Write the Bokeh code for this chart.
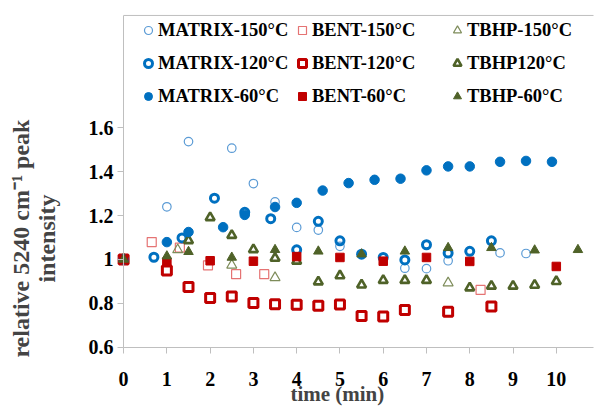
import math
from bokeh.plotting import figure
from bokeh.models import (LinearAxis, FixedTicker, Legend, LegendItem, Label)
from bokeh.embed import file_html
from bokeh.resources import INLINE

# ---------------- data ----------------
matrix_150_t = [0, 1, 1.5, 2.5, 3, 3.5, 4, 4.5, 5, 6.5, 7, 7.5, 8.7, 9.3]
matrix_150_v = [1.0, 1.24, 1.537, 1.507, 1.346, 1.262, 1.146, 1.134, 1.06, 0.96, 0.958, 0.994, 1.03, 1.027]

bent_150_t = [0, 0.65, 1.3, 1.95, 2.6, 3.25, 8.25]
bent_150_v = [1.0, 1.079, 1.054, 0.973, 0.933, 0.933, 0.861]

tbhp_150_t = [0, 1.25, 2.5, 3.5, 7.5]
tbhp_150_v = [1.0, 1.044, 0.974, 0.917, 0.893]

matrix_120_t = [0, 0.7, 1.35, 2.1, 2.8, 3.4, 4, 4.5, 5, 5.5, 6, 6.5, 7, 7.5, 8, 8.5]
matrix_120_v = [1.0, 1.01, 1.098, 1.279, 1.215, 1.186, 1.044, 1.174, 1.085, 1.024, 1.009, 0.998, 1.067, 1.029, 1.037, 1.085]

bent_120_t = [0, 1, 1.5, 2, 2.5, 3, 3.5, 4, 4.5, 5, 5.5, 6, 6.5, 7.5, 8.5]
bent_120_v = [1.0, 0.95, 0.874, 0.824, 0.831, 0.801, 0.796, 0.793, 0.789, 0.795, 0.742, 0.740, 0.770, 0.762, 0.785]

tbhp_120_t = [0, 1.5, 2, 2.5, 3, 3.5, 4, 4.5, 5, 5.5, 6, 6.5, 7, 8, 8.5, 9, 9.5, 10]
tbhp_120_v = [1.0, 1.086, 1.191, 1.11, 1.045, 1.006, 0.993, 0.898, 0.926, 0.884, 0.905, 0.905, 0.905, 0.871, 0.879, 0.879, 0.883, 0.9]

matrix_60_t = [0, 1, 1.5, 2.3, 2.8, 3.5, 4, 4.6, 5.2, 5.8, 6.4, 7, 7.5, 8, 8.7, 9.3, 9.9]
matrix_60_v = [1.0, 1.079, 1.125, 1.147, 1.203, 1.239, 1.258, 1.314, 1.348, 1.363, 1.368, 1.406, 1.424, 1.424, 1.445, 1.449, 1.445]

bent_60_t = [0, 1, 2, 3, 4, 5, 6, 7, 8, 10]
bent_60_v = [1.0, 0.988, 0.994, 0.992, 1.013, 1.009, 0.992, 1.009, 0.991, 0.968]

tbhp_60_t = [0, 1, 1.5, 2.5, 3.5, 4.5, 5.5, 6.5, 7.5, 8.5, 9.5, 10.5]
tbhp_60_v = [1.0, 1.015, 1.035, 1.009, 1.044, 1.037, 1.024, 1.037, 1.053, 1.053, 1.042, 1.044]

x_ticks = [0, 1, 2, 3, 4, 5, 6, 7, 8, 9, 10]
y_ticks = [0.6, 0.8, 1.0, 1.2, 1.4, 1.6]
y_tick_labels = ["0.6", "0.8", "1", "1.2", "1.4", "1.6"]

x_title = "time (min)"
y_title = "relative 5240 cm\u207b\u00b9 peak\nintensity"

# ---------------- layout constants ----------------
FONT = "Liberation Serif"
AX = "#BFBFBF"
X_MIN, X_MAX = 0, 10.86        # extent of the drawn x axis
Y_MIN, Y_MAX = 0.6, 2.112      # extent of the drawn y axis (top = box border)

# the frame fills the whole canvas; axes are drawn at fixed data locations
p = figure(width=595, height=419, x_range=(-2.845, 10.906), y_range=(0.2705, 2.1802),
           output_backend="svg", toolbar_location=None,
           x_axis_type=None, y_axis_type=None,
           min_border_left=0, min_border_right=0, min_border_top=0, min_border_bottom=0)
p.outline_line_color = None
p.background_fill_color = "white"
p.border_fill_color = "white"

def style_axis(ax):
    ax.axis_line_color = AX
    ax.major_tick_line_color = AX
    ax.minor_tick_line_color = None
    ax.major_tick_out = 6
    ax.major_tick_in = 0
    ax.major_label_text_font = FONT
    ax.major_label_text_font_style = "bold"
    ax.major_label_text_font_size = "20px"
    ax.major_label_text_color = "black"

xaxis = LinearAxis(ticker=FixedTicker(ticks=x_ticks), bounds=(X_MIN, X_MAX), fixed_location=Y_MIN)
style_axis(xaxis)
xaxis.major_label_standoff = 19
p.add_layout(xaxis, "below")

yaxis = LinearAxis(ticker=FixedTicker(ticks=y_ticks), bounds=(Y_MIN, Y_MAX), fixed_location=X_MIN,
                   major_label_overrides=dict(zip(y_ticks, y_tick_labels)))
style_axis(yaxis)
yaxis.major_label_standoff = 4
p.add_layout(yaxis, "left")

# top border line of the legend/plot box
p.segment(x0=[X_MIN], y0=[Y_MAX], x1=[X_MAX], y1=[Y_MAX], line_color=AX, line_width=1)

# ---------------- series ----------------
series = [
    ("MATRIX-150°C", matrix_150_t, matrix_150_v, "circle", "#5B9BD5", False, 8.5, 1.2),
    ("BENT-150°C", bent_150_t, bent_150_v, "square", "#E57373", False, 9, 1.2),
    ("TBHP-150°C", tbhp_150_t, tbhp_150_v, "triangle", "#7E8C5A", False, 10, 1.2),
    ("MATRIX-120°C", matrix_120_t, matrix_120_v, "circle", "#0070C0", False, 8, 3),
    ("BENT-120°C", bent_120_t, bent_120_v, "square", "#C00000", False, 9, 3),
    ("TBHP120°C", tbhp_120_t, tbhp_120_v, "triangle", "#4F6228", False, 9, 2.6),
    ("MATRIX-60°C", matrix_60_t, matrix_60_v, "circle", "#0070C0", True, 9.5, 1),
    ("BENT-60°C", bent_60_t, bent_60_v, "square", "#C00000", True, 8.5, 1),
    ("TBHP-60°C", tbhp_60_t, tbhp_60_v, "triangle", "#4F6228", True, 9.5, 1),
]

renderers = []
for name, t, v, marker, color, filled, size, lw in series:
    r = p.scatter(t, v, marker=marker, size=size, line_color=color, line_width=lw,
                  fill_color=color if filled else None)
    renderers.append((name, r))

# legend: three columns, rows by temperature
cols = [[0, 3, 6], [1, 4, 7], [2, 5, 8]]
col_x = [138, 292, 447]
for ci, idxs in enumerate(cols):
    items = [LegendItem(label=renderers[i][0], renderers=[renderers[i][1]]) for i in idxs]
    lg = Legend(items=items, location=(col_x[ci], 308), orientation="vertical",
                glyph_width=20, glyph_height=30, label_height=30, label_standoff=0,
                spacing=3, padding=0, margin=0,
                label_text_font=FONT, label_text_font_style="bold",
                label_text_font_size="18.5px", label_text_color="black",
                border_line_color=None, background_fill_alpha=0)
    p.add_layout(lg, "center")

# axis titles
p.add_layout(Label(x=4.94, y=0.385, text=x_title, text_font=FONT, text_font_style="bold",
                   text_font_size="21px", text_align="center", text_baseline="middle"))
p.add_layout(Label(x=-2.07, y=1.095, text=y_title, angle=math.pi / 2, text_font=FONT,
                   text_font_style="bold", text_font_size="24px", text_line_height=1.0,
                   text_align="center", text_baseline="middle"))

open("out.html", "w").write(file_html(p, INLINE))
